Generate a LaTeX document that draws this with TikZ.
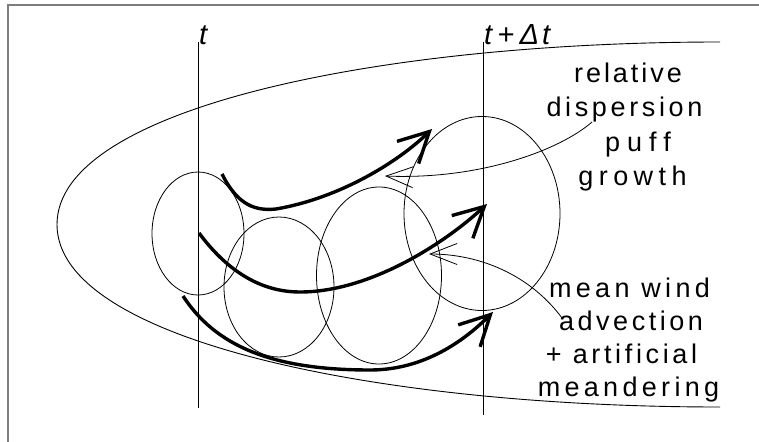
\documentclass[tikz,border=0pt]{standalone}
\usepackage{fontspec}
\setmainfont{Liberation Sans}
\usetikzlibrary{arrows.meta}
\definecolor{framegray}{RGB}{125,125,125}
\begin{document}
\begin{tikzpicture}[x=1pt,y=-1pt,
  frameline/.style={draw=framegray,line width=1.6pt},
  timeline/.style={line width=0.9pt},
  envelope/.style={line width=0.9pt},
  puff/.style={line width=0.8pt},
  flow/.style={line width=3.4pt,-{Straight Barb[length=30pt,width=31pt]}},
  note/.style={line width=0.8pt,-{Straight Barb[length=27pt,width=21pt]}},
  lbl/.style={font=\fontsize{27pt}{30pt}\selectfont,anchor=base,inner sep=0pt},
  tlbl/.style={font=\fontsize{29pt}{32pt}\selectfont\itshape,anchor=base west,inner sep=0pt}]
\useasboundingbox (0,0) rectangle (759,441);
\draw[frameline] (8,5) rectangle (790,470);

% time lines
\coordinate (tA) at (198.5,42);
\coordinate (tB) at (198.5,408);
\coordinate (dA) at (483,42);
\coordinate (dB) at (483,415);
\draw[timeline] (tA) -- (tB);
\draw[timeline] (dA) -- (dB);
\node[tlbl] (tlab) at (199,45) {t};
\node[tlbl] (dtlab) at (484,45) {\addfontfeature{LetterSpace=18}t+Δ\kern3pt t};

% envelope
\coordinate (eTop) at (720,42);
\coordinate (eNose) at (57,224.5);
\coordinate (eBot) at (720,407);
\draw[envelope] (eTop) .. controls (380,42) and (57,108) .. (eNose)
  .. controls (57,341) and (380,407) .. (eBot);

% puffs
\draw[puff] (198,233.5) ellipse [x radius=46,y radius=61.5];
\draw[puff] (279,287) ellipse [x radius=55,y radius=70];
\draw[puff] (379,275.5) ellipse [x radius=62.5,y radius=88.5];
\draw[puff] (482,213.5) ellipse [x radius=78,y radius=97];

% thick flow arrows
\coordinate (a1s) at (222,174);
\coordinate (a1m) at (276,209);
\coordinate (a1e) at (432,129);
\draw[flow] (a1s) .. controls (238,206) and (256,211) .. (a1m)
  .. controls (340,198) and (398,162) .. (a1e);
\coordinate (a2s) at (199,233);
\coordinate (a2m) at (300,292);
\coordinate (a2e) at (487,204);
\draw[flow] (a2s) .. controls (225,268) and (258,292) .. (a2m)
  .. controls (370,292) and (445,243) .. (a2e);
\coordinate (a3s) at (183,296);
\coordinate (a3m) at (370,370);
\coordinate (a3e) at (493,312);
\draw[flow] (a3s) .. controls (215,345) and (270,370) .. (a3m)
  .. controls (420,370) and (460,345) .. (a3e);

% labels
\node[lbl] (r1) at (628,83) {\addfontfeature{LetterSpace=11}relative};
\node[lbl] (r2) at (624.5,117) {\addfontfeature{LetterSpace=13.5}dispersion};
\node[lbl] (r3) at (638,151) {\addfontfeature{LetterSpace=26}puff};
\node[lbl] (r4) at (632.5,185) {\addfontfeature{LetterSpace=20}growth};
\node[lbl] (m1) at (629.5,297) {\addfontfeature{LetterSpace=16}mean wind};
\node[lbl] (m2) at (631,330) {\addfontfeature{LetterSpace=13}advection};
\node[lbl] (m3) at (621.5,363) {\addfontfeature{LetterSpace=13.5}+ artificial};
\node[lbl] (m4) at (628.5,396) {\addfontfeature{LetterSpace=16}meandering};

% annotation arrows
\coordinate (n1s) at (592,122);
\coordinate (n1e) at (385,176);
\draw[note] (n1s) .. controls (560,150) and (480,180) .. (n1e);
\coordinate (n2s) at (562,318);
\coordinate (n2e) at (429,254);
\draw[note] (n2s) .. controls (530,275) and (480,254) .. (n2e);
\end{tikzpicture}
\end{document}
